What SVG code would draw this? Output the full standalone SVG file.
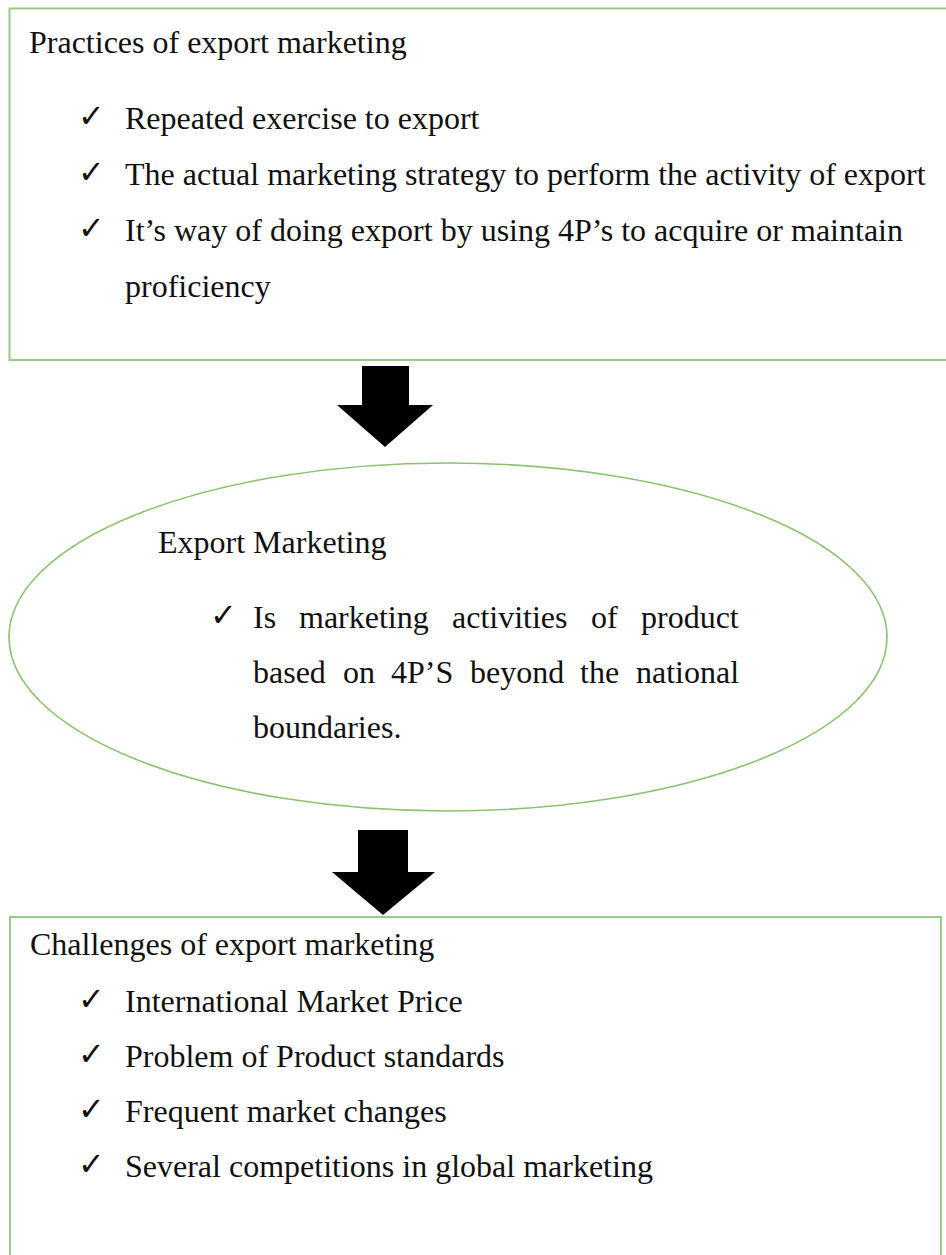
<svg xmlns="http://www.w3.org/2000/svg" width="946" height="1255" viewBox="0 0 946 1255">
  <style>
    .frame { fill: #ffffff; stroke: #9cc985; stroke-width: 2; }
    .oval { fill: #ffffff; stroke: #8cc270; stroke-width: 1.6; }
    .txt { font-family: "Liberation Serif", "Times New Roman", serif; font-size: 32px; fill: #111111; }
    .tick { font-family: "DejaVu Sans", sans-serif; font-size: 32px; font-weight: bold; fill: #111111; }
    .arrow { fill: #000000; }
  </style>
  <rect width="946" height="1255" fill="#ffffff"/>

  <!-- practices box -->
  <g id="practices">
    <rect class="frame" x="9.5" y="8.5" width="950" height="351.5"/>
    <text class="txt" x="29" y="53">Practices of export marketing</text>
    <text class="tick" x="78" y="127">✓</text>
    <text class="txt" x="125" y="129">Repeated exercise to export</text>
    <text class="tick" x="78" y="183">✓</text>
    <text class="txt" x="125" y="185">The actual marketing strategy to perform the activity of export</text>
    <text class="tick" x="78" y="239">✓</text>
    <text class="txt" x="125" y="241" textLength="778" lengthAdjust="spacingAndGlyphs">It’s way of doing export by using 4P’s to acquire or maintain</text>
    <text class="txt" x="125" y="297">proficiency</text>
  </g>

  <!-- export marketing ellipse, justified paragraph -->
  <g id="export-marketing">
    <ellipse class="oval" cx="448" cy="637" rx="439" ry="174"/>
    <text class="txt" x="158" y="553">Export Marketing</text>
    <text class="tick" x="210" y="626">✓</text>
    <text class="txt" y="628"><tspan x="253">Is</tspan><tspan x="299">marketing</tspan><tspan x="452">activities</tspan><tspan x="591">of</tspan><tspan x="641">product</tspan></text>
    <text class="txt" y="683"><tspan x="253">based</tspan><tspan x="343">on</tspan><tspan x="391">4P’S</tspan><tspan x="470">beyond</tspan><tspan x="580">the</tspan><tspan x="636">national</tspan></text>
    <text class="txt" x="253" y="738">boundaries.</text>
  </g>

  <!-- challenges box -->
  <g id="challenges">
    <rect class="frame" x="10" y="917" width="931" height="360"/>
    <text class="txt" x="30" y="955">Challenges of export marketing</text>
    <text class="tick" x="78" y="1010">✓</text>
    <text class="txt" x="125" y="1012">International Market Price</text>
    <text class="tick" x="78" y="1065">✓</text>
    <text class="txt" x="125" y="1067">Problem of Product standards</text>
    <text class="tick" x="78" y="1120">✓</text>
    <text class="txt" x="125" y="1122">Frequent market changes</text>
    <text class="tick" x="78" y="1175">✓</text>
    <text class="txt" x="125" y="1177">Several competitions in global marketing</text>
  </g>

  <!-- connectors -->
  <g id="connectors">
    <polygon class="arrow" points="362,366 409,366 409,405 433,405 385,447 337,405 362,405"/>
    <polygon class="arrow" points="358,830 408,830 408,872 435,872 383,915 332,872 358,872"/>
  </g>
</svg>
